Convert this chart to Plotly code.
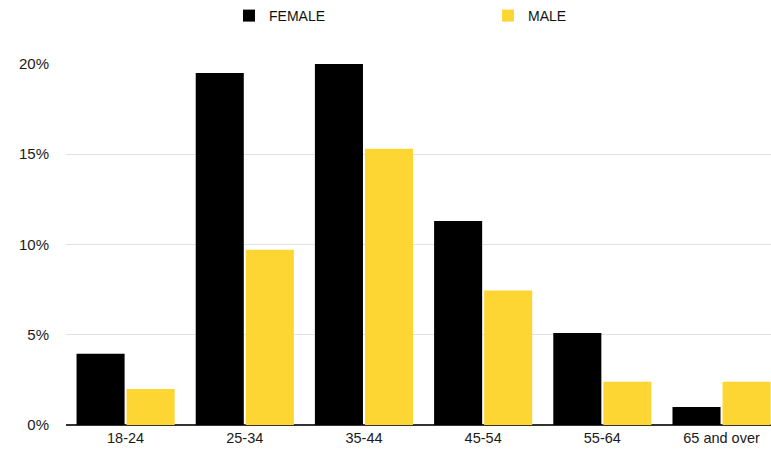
import plotly.graph_objects as go

# Age brackets and share of each gender (percent)
age_groups = ["18-24", "25-34", "35-44", "45-54", "55-64", "65 and over"]
female_pct = [3.95, 19.5, 20.0, 11.3, 5.1, 1.0]
male_pct = [2.0, 9.7, 15.3, 7.45, 2.4, 2.4]
y_ticks = [0, 5, 10, 15, 20]
y_tick_labels = ["0%", "5%", "10%", "15%", "20%"]

FONT = "Liberation Sans, Arial, Helvetica, sans-serif"

fig = go.Figure()
fig.add_trace(go.Bar(name="FEMALE", x=age_groups, y=female_pct,
                     marker=dict(color="#000000", line=dict(width=0))))
fig.add_trace(go.Bar(name="MALE", x=age_groups, y=male_pct,
                     marker=dict(color="#FDD633", line=dict(width=0))))

fig.update_layout(
    width=771, height=451,
    margin=dict(l=66, r=0, t=63, b=26),
    paper_bgcolor="white", plot_bgcolor="white",
    barmode="group", bargap=0.16, bargroupgap=0.04,
    font=dict(family=FONT, size=14, color="#1a1a1a"),
    showlegend=True,
    legend=dict(orientation="h", x=229 / 771, xref="container", xanchor="left",
                y=1, yref="container", yanchor="top",
                entrywidth=214, entrywidthmode="pixels",
                font=dict(size=14, color="#111111"), itemclick=False),
    xaxis=dict(range=[-0.5, 5.415], showgrid=False, showline=False,
               zeroline=False, ticks="", ticklabelstandoff=2,
               tickfont=dict(size=14.5)),
    yaxis=dict(range=[0, 20.05], tickvals=y_ticks, ticktext=y_tick_labels,
               showgrid=True, gridcolor="#E2E2E2", gridwidth=1,
               zeroline=True, zerolinecolor="#333333", zerolinewidth=1.5,
               showline=False, ticks="", ticklabelstandoff=16,
               tickfont=dict(size=15)),
)

fig.write_html("out.html")
